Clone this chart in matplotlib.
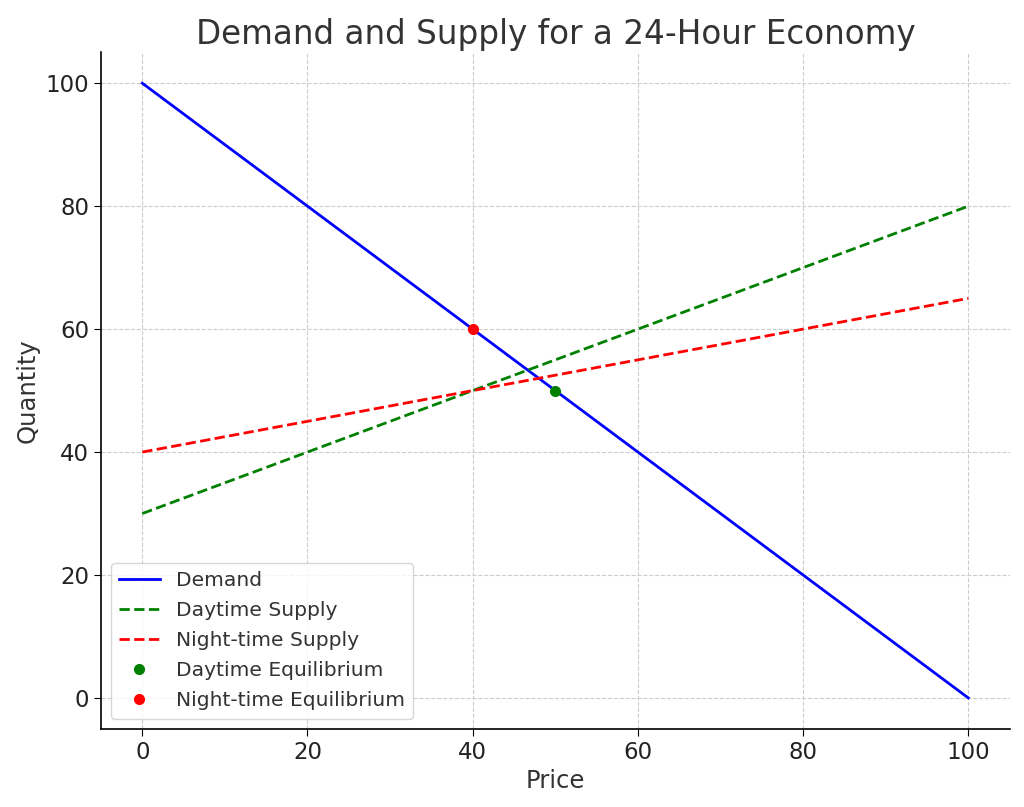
import matplotlib.pyplot as plt

price = [0, 100]
demand = [100, 0]
day_supply = [30, 80]
night_supply = [40, 65]

day_eq = (50, 50)
night_eq = (40, 60)

fig, ax = plt.subplots(figsize=(10.24, 8.07), dpi=100)

ax.plot(price, demand, color='blue', lw=2, label='Demand')
ax.plot(price, day_supply, color='green', lw=2, ls='--', label='Daytime Supply')
ax.plot(price, night_supply, color='red', lw=2, ls='--', label='Night-time Supply')
ax.plot(*day_eq, 'o', color='green', ms=7, label='Daytime Equilibrium')
ax.plot(*night_eq, 'o', color='red', ms=7, label='Night-time Equilibrium')

ax.set_title('Demand and Supply for a 24-Hour Economy', fontsize=23.5, color='#333333')
ax.set_xlabel('Price', fontsize=17.5, color='#333333')
ax.set_ylabel('Quantity', fontsize=17.5, color='#333333')
ax.tick_params(labelsize=16.5, colors='#222222', length=5)
ax.tick_params(axis='both', color='black')
ax.grid(True, ls='--', color='#cccccc', lw=0.8)
ax.spines['top'].set_visible(False)
ax.spines['right'].set_visible(False)
ax.spines['left'].set_linewidth(1.2)
ax.spines['bottom'].set_linewidth(1.2)
leg = ax.legend(loc='lower left', fontsize=14.6, labelcolor='#333333', labelspacing=0.55)

fig.subplots_adjust(left=0.0986, right=0.986, top=0.935, bottom=0.097)
fig.savefig('out.png', dpi=100)
